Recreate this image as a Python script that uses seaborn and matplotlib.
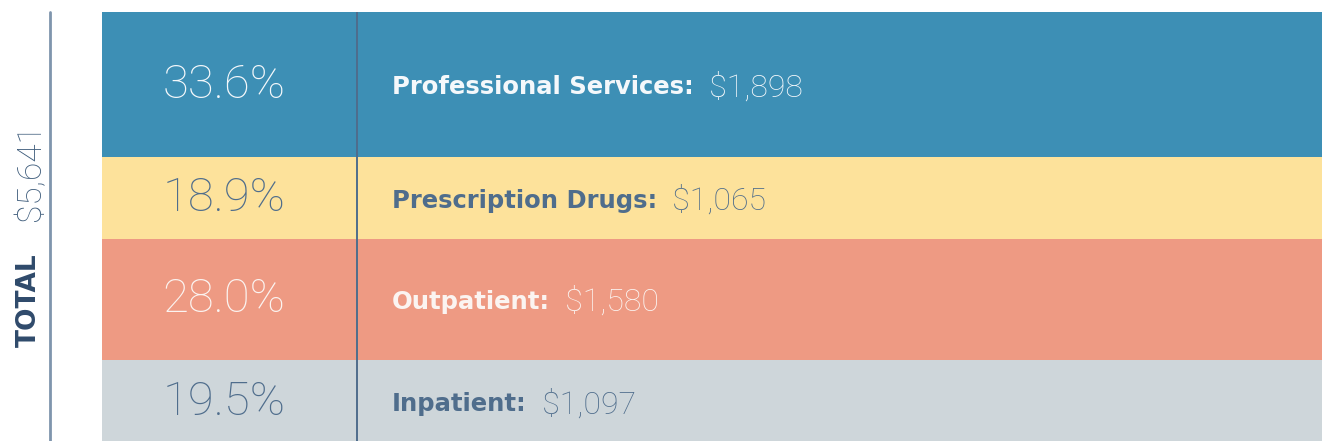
import matplotlib
matplotlib.use("Agg")
import matplotlib.pyplot as plt
import seaborn as sns
import pandas as pd

# Valores (de arriba a abajo)
categorias = ["Professional Services", "Prescription Drugs", "Outpatient", "Inpatient"]
porcentajes = [33.6, 18.9, 28.0, 19.5]
montos = [1898, 1065, 1580, 1097]
total = 5641
colores = ["#3d8fb5", "#fde29b", "#ee9a83", "#ced6da"]
color_texto = ["#f4f8fb", "#4f6d8c", "#fbf4f1", "#4f6d8c"]

df = pd.DataFrame({"Categoria": categorias, "Porcentaje": porcentajes, "Monto": montos})
df["Base"] = df["Porcentaje"].cumsum() - df["Porcentaje"]

sns.set_theme(style="white")
plt.rcParams["font.family"] = ["Roboto", "DejaVu Sans"]

W, H = 1322, 441
fig = plt.figure(figsize=(W / 100, H / 100), dpi=100)
# el eje ocupa la barra: de x=102 px al borde derecho, arriba en y=12 px
ax = fig.add_axes([102 / W, -3 / H, 1 - 102 / W, 432 / H])

for i, fila in df.iterrows():
    sns.barplot(x=["total"], y=[fila["Porcentaje"]], bottom=fila["Base"],
                color=colores[i], width=1.0, saturation=1, linewidth=0, ax=ax)

ax.set_xlim(-0.5, 0.5)
ax.set_ylim(100, 0)
ax.axis("off")

# línea divisoria entre porcentaje y etiqueta
x_div = (357 - 102) / (W - 102) - 0.5
ax.axvline(x_div, color="#4f6d8c", lw=1.4, ymin=0, ymax=1)

x_pct = ((224 - 102) / (W - 102)) - 0.5
x_lab = ((392 - 102) / (W - 102)) - 0.5
for i, fila in df.iterrows():
    yc = fila["Base"] + fila["Porcentaje"] / 2
    ax.text(x_pct, yc, f"{fila['Porcentaje']:.1f}%", ha="center", va="center",
            fontsize=34, fontweight="light", color=color_texto[i])
    lbl = ax.text(x_lab, yc + 0.6, f"{fila['Categoria']}:", ha="left", va="center",
                  fontsize=17.5, fontweight="bold", color=color_texto[i],
                  family="DejaVu Sans")
    ax.annotate(f"  ${fila['Monto']:,}", xycoords=lbl, xy=(1, 0.5),
                ha="left", va="center", fontsize=23, fontweight="light",
                color=color_texto[i])

# eje izquierdo con el total
fig.add_artist(plt.Line2D([50 / W, 50 / W], [0, 1 - 12 / H], color="#7f95ad", lw=2))
fig.text(29 / W, 1 - 300 / H, "TOTAL", rotation=90, ha="center", va="center",
         fontsize=19, fontweight="bold", color="#2f4a6b", family="DejaVu Sans")
fig.text(31 / W, 1 - 172 / H, f"${total:,}", rotation=90, ha="center", va="center",
         fontsize=24, fontweight="light", color="#3f5d7c")

fig.savefig("out.png", dpi=100)
